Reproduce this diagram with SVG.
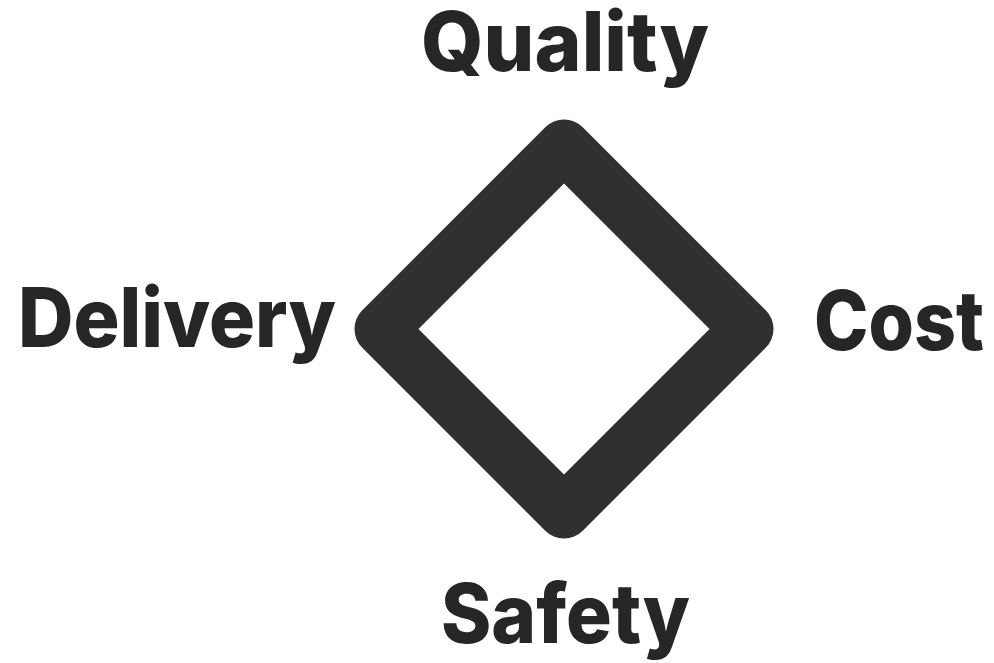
<svg xmlns="http://www.w3.org/2000/svg" width="994" height="663" viewBox="0 0 994 663">
<style>
.lbl{font-family:Inter,"Liberation Sans",sans-serif;font-weight:800;font-size:82px;fill:#262626}
.shape{fill:none;stroke:#303030;stroke-width:53;stroke-linejoin:round}
</style>
<rect width="994" height="663" fill="#ffffff"/>
<g id="diamond"><polygon class="shape" points="564,146 747,329 564,512 381,329"/></g>
<g id="quality"><text class="lbl" x="421" y="71" textLength="288" lengthAdjust="spacingAndGlyphs">Quality</text></g>
<g id="delivery"><text class="lbl" x="18" y="347" textLength="318" lengthAdjust="spacingAndGlyphs">Delivery</text></g>
<g id="cost"><text class="lbl" x="814" y="350" textLength="170" lengthAdjust="spacingAndGlyphs">Cost</text></g>
<g id="safety"><text class="lbl" x="441" y="643" textLength="249" lengthAdjust="spacingAndGlyphs">Safety</text></g>
<g id="connectors"></g>
</svg>
